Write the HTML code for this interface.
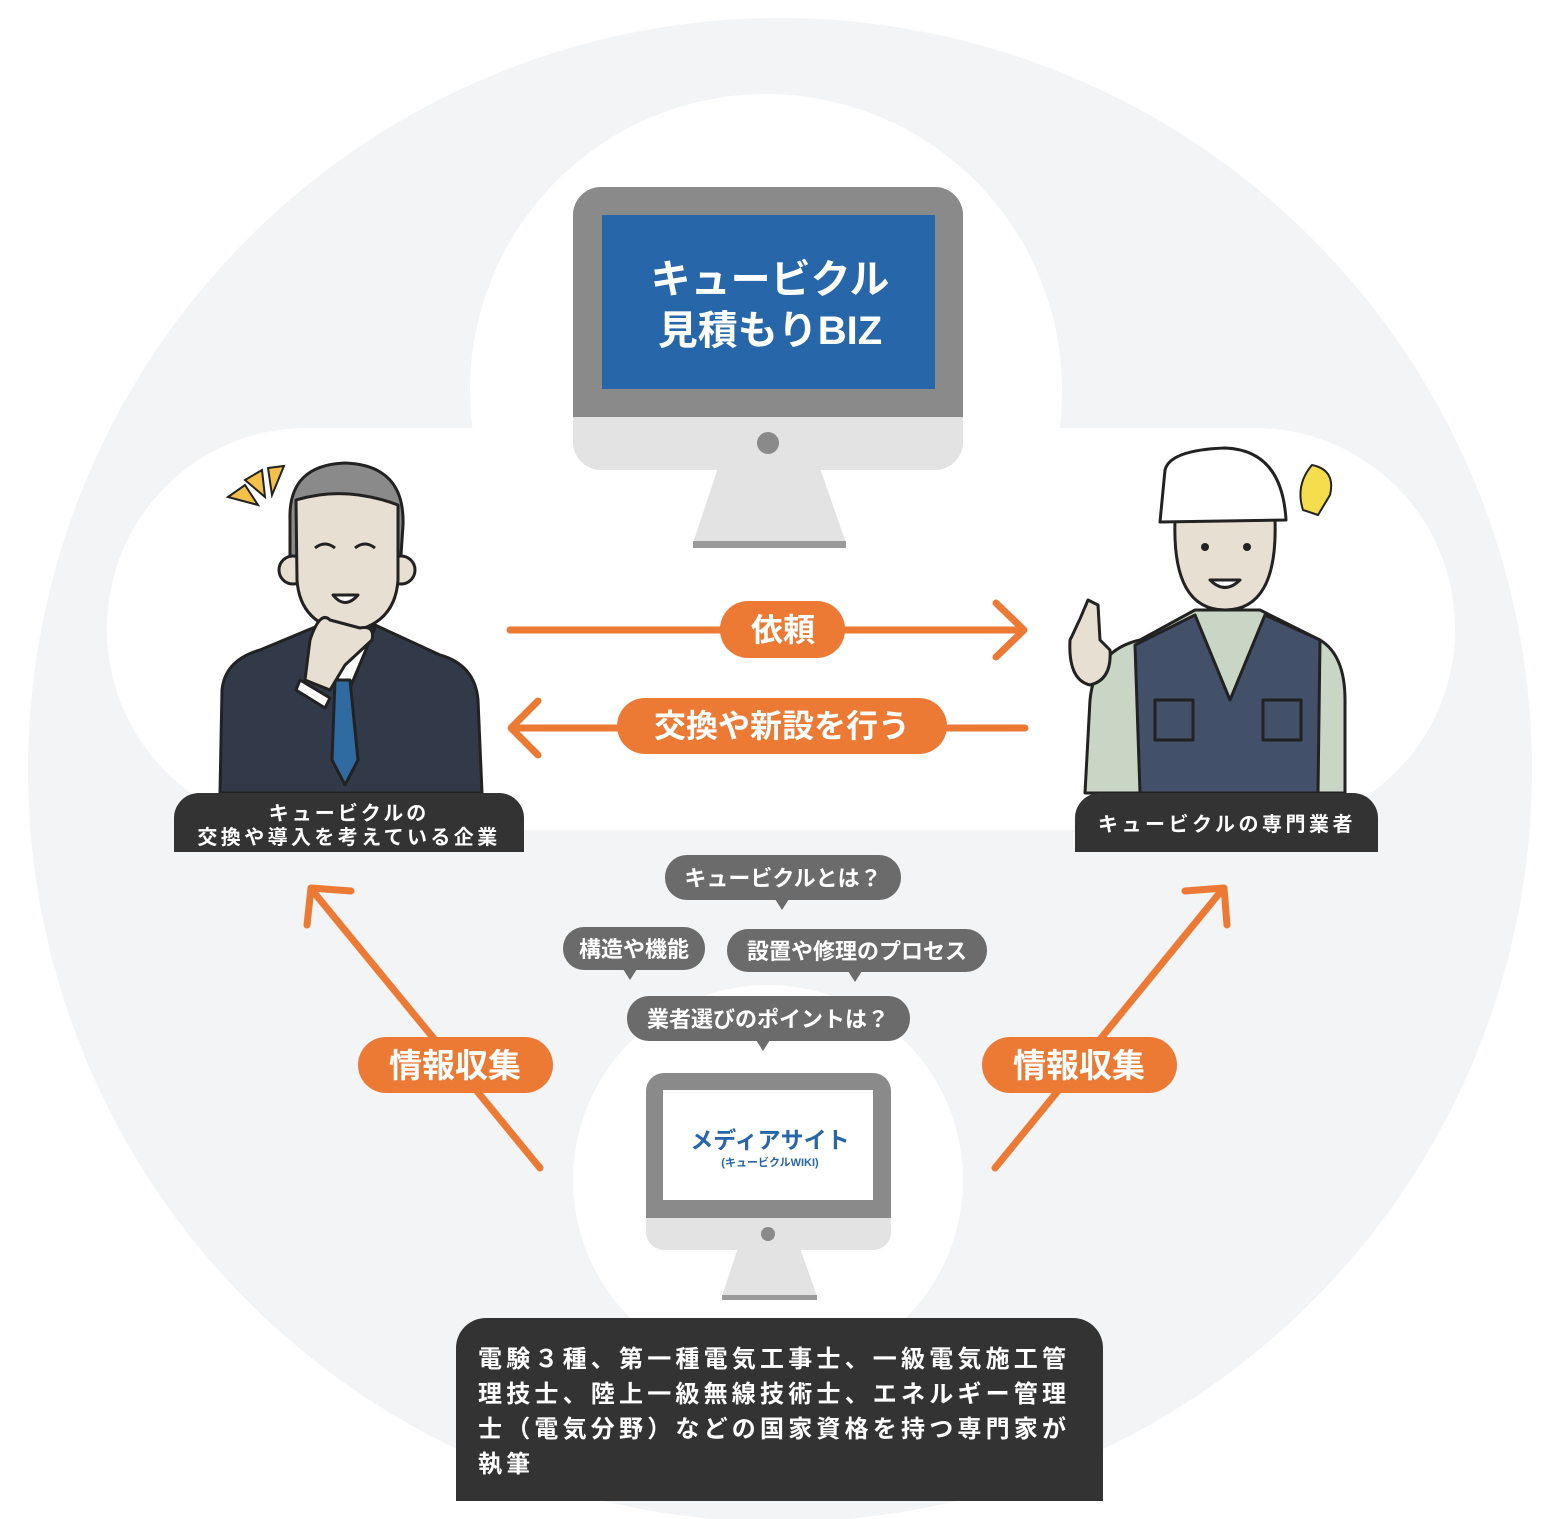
<!DOCTYPE html>
<html><head><meta charset="utf-8"><style>
html,body{margin:0;padding:0;background:#fff;}
svg{display:block;}
text{font-family:"Liberation Sans","Noto Sans CJK JP",sans-serif;font-weight:bold;}
</style></head><body>
<svg width="1560" height="1519" viewBox="0 0 1560 1519" xmlns="http://www.w3.org/2000/svg">
<rect width="1560" height="1519" fill="#fff"/>
<circle cx="780" cy="770" r="752" fill="#f3f4f5"/>
<circle cx="766" cy="390" r="296" fill="#fff"/>
<rect x="107" y="428" width="1348" height="402" rx="200" fill="#fff"/>
<circle cx="768" cy="1180" r="195" fill="#fff"/>

<path d="M718 468 L820 468 L846 543 L693 543 Z" fill="#e3e3e3"/>
<rect x="693" y="541" width="153" height="7" fill="#9a9a9a"/>
<rect x="573" y="187" width="390" height="283" rx="28" fill="#e3e3e3"/>
<path d="M601 187 H935 A28 28 0 0 1 963 215 V417 H573 V215 A28 28 0 0 1 601 187 Z" fill="#8a8a8a"/>
<rect x="602" y="215" width="333" height="174" fill="#2766a8"/>
<circle cx="768" cy="443" r="11" fill="#8a8a8a"/>
<text x="770" y="293" font-size="40" fill="#fff" text-anchor="middle">キュービクル</text>
<text x="770" y="344" font-size="40" fill="#fff" text-anchor="middle">見積もりBIZ</text>

<g stroke="#ec7a35" stroke-width="7" fill="none" stroke-linecap="round" stroke-linejoin="round">
<line x1="510" y1="630" x2="1022" y2="630"/>
<polyline points="996,603 1024,630 996,657"/>
<line x1="1025" y1="728" x2="513" y2="728"/>
<polyline points="538,701 511,728 538,755"/>
<line x1="540" y1="1168" x2="312" y2="890"/>
<polyline points="307,925 311,888 351,891"/>
<line x1="995" y1="1168" x2="1222" y2="890"/>
<polyline points="1185,891 1224,888 1227,925"/>
</g>
<rect x="720" y="601" width="125" height="57" rx="28" fill="#ec7a35"/>
<text x="783" y="641" font-size="32" fill="#fff" text-anchor="middle">依頼</text>
<rect x="617" y="698" width="330" height="56" rx="28" fill="#ec7a35"/>
<text x="782" y="737" font-size="32" fill="#fff" text-anchor="middle">交換や新設を行う</text>
<rect x="358" y="1037" width="195" height="56" rx="28" fill="#ec7a35"/>
<text x="455" y="1077" font-size="33" fill="#fff" text-anchor="middle">情報収集</text>
<rect x="982" y="1037" width="195" height="56" rx="28" fill="#ec7a35"/>
<text x="1079" y="1077" font-size="33" fill="#fff" text-anchor="middle">情報収集</text>

<g fill="#6b6b6b">
<rect x="665" y="855" width="236" height="45" rx="22"/><path d="M775 899 L789 899 L782 910 Z"/>
<rect x="563" y="927" width="142" height="43" rx="21"/><path d="M623 969 L637 969 L630 980 Z"/>
<rect x="727" y="929" width="260" height="43" rx="21"/><path d="M848 971 L862 971 L855 982 Z"/>
<rect x="627" y="996" width="283" height="45" rx="22"/><path d="M756 1040 L770 1040 L763 1051 Z"/>
</g>
<g fill="#fff" font-size="22" text-anchor="middle">
<text x="783" y="886">キュービクルとは？</text>
<text x="634" y="957">構造や機能</text>
<text x="857" y="959">設置や修理のプロセス</text>
<text x="768" y="1027">業者選びのポイントは？</text>
</g>

<path d="M738 1248 L800 1248 L817 1296 L722 1296 Z" fill="#e3e3e3"/>
<rect x="722" y="1295" width="95" height="5" fill="#9a9a9a"/>
<rect x="646" y="1073" width="245" height="177" rx="18" fill="#e3e3e3"/>
<path d="M664 1073 H873 A18 18 0 0 1 891 1091 V1218 H646 V1091 A18 18 0 0 1 664 1073 Z" fill="#8a8a8a"/>
<rect x="663" y="1090" width="210" height="110" fill="#fff"/>
<circle cx="768" cy="1234" r="7" fill="#8a8a8a"/>
<text x="770" y="1148" font-size="23" fill="#2766a8" text-anchor="middle">メディアサイト</text>
<text x="770" y="1166" font-size="11" fill="#2766a8" text-anchor="middle">(キュービクルWIKI)</text>

<path d="M486 1318 H1073 A30 30 0 0 1 1103 1348 V1501 H456 V1348 A30 30 0 0 1 486 1318 Z" fill="#333"/>
<g fill="#fff" font-size="24" letter-spacing="4.2">
<text x="478" y="1367">電験３種、第一種電気工事士、一級電気施工管</text>
<text x="478" y="1402">理技士、陸上一級無線技術士、エネルギー管理</text>
<text x="478" y="1437">士（電気分野）などの国家資格を持つ専門家が</text>
<text x="478" y="1472">執筆</text>
</g>

<g stroke="#222" stroke-width="3" stroke-linejoin="round">
<path d="M220 793 L222 690 Q225 660 260 650 L320 625 L375 625 L440 655 Q475 665 478 700 L482 793 Z" fill="#323a4a"/>
<path d="M320 628 L345 700 L375 628 Z" fill="#fff"/>
<path d="M335 680 L350 680 L358 760 L345 785 L332 760 Z" fill="#2f6aa0"/>
<path d="M290 520 Q288 465 345 463 Q405 465 403 525 L400 570 L290 570 Z" fill="#8a8a8a"/>
<circle cx="293" cy="570" r="14" fill="#e8dfd3"/>
<circle cx="401" cy="570" r="14" fill="#e8dfd3"/>
<path d="M296 500 Q345 485 398 505 L398 580 Q395 625 348 632 Q300 625 297 580 Z" fill="#e8dfd3"/>
<path d="M310 640 Q320 610 330 620 L360 628 Q375 625 372 640 L345 665 L330 690 L305 680 Z" fill="#e8dfd3"/>
<path d="M300 680 L330 698 L325 708 L296 690 Z" fill="#fff"/>
<path d="M315 548 Q325 540 335 548 M355 548 Q365 540 375 548" fill="none"/>
<path d="M333 595 Q345 610 358 595 Z" fill="#fff"/>
</g>
<g fill="#f5c04a" stroke="#222" stroke-width="2"><path d="M228 497 L258 505 L245 485 Z"/><path d="M245 480 L265 497 L262 470 Z"/><path d="M268 468 L272 495 L284 466 Z"/></g>
<path d="M199 793 H499 A25 25 0 0 1 524 818 V852 H174 V818 A25 25 0 0 1 199 793 Z" fill="#333"/>
<text x="349" y="820" font-size="20" fill="#fff" text-anchor="middle" letter-spacing="3">キュービクルの</text>
<text x="349" y="844" font-size="20" fill="#fff" text-anchor="middle" letter-spacing="3.4">交換や導入を考えている企業</text>

<g stroke="#222" stroke-width="3" stroke-linejoin="round">
<path d="M1085 793 L1090 700 Q1095 650 1140 640 L1195 610 L1260 610 L1320 640 Q1345 655 1345 700 L1345 793 Z" fill="#c9d6c6"/>
<path d="M1135 645 L1195 615 L1230 700 L1265 615 L1320 640 L1318 793 L1140 793 Z" fill="#43506a"/>
<path d="M1175 520 Q1172 610 1225 610 Q1278 610 1275 520 Z" fill="#e8dfd3"/>
<path d="M1165 470 Q1170 450 1225 448 Q1282 450 1286 520 L1160 522 Z" fill="#fff"/>
<path d="M1070 640 Q1080 620 1088 600 L1098 605 L1100 640 L1110 650 Q1112 680 1090 685 Q1068 680 1070 640 Z" fill="#e8dfd3"/>
<rect x="1155" y="700" width="38" height="40" fill="#43506a"/>
<rect x="1263" y="700" width="38" height="40" fill="#43506a"/>
<path d="M1210 580 Q1225 595 1240 580 Z" fill="#fff"/>
</g>
<circle cx="1205" cy="547" r="4" fill="#222"/><circle cx="1247" cy="547" r="4" fill="#222"/>
<path d="M1312 465 Q1336 470 1330 495 L1318 515 L1303 510 Q1295 485 1312 465 Z" fill="#f6dd4e" stroke="#222" stroke-width="2"/>
<path d="M1100 793 H1353 A25 25 0 0 1 1378 818 V852 H1075 V818 A25 25 0 0 1 1100 793 Z" fill="#333"/>
<text x="1227" y="831" font-size="20" fill="#fff" text-anchor="middle" letter-spacing="3.5">キュービクルの専門業者</text>
</svg>
</body></html>
